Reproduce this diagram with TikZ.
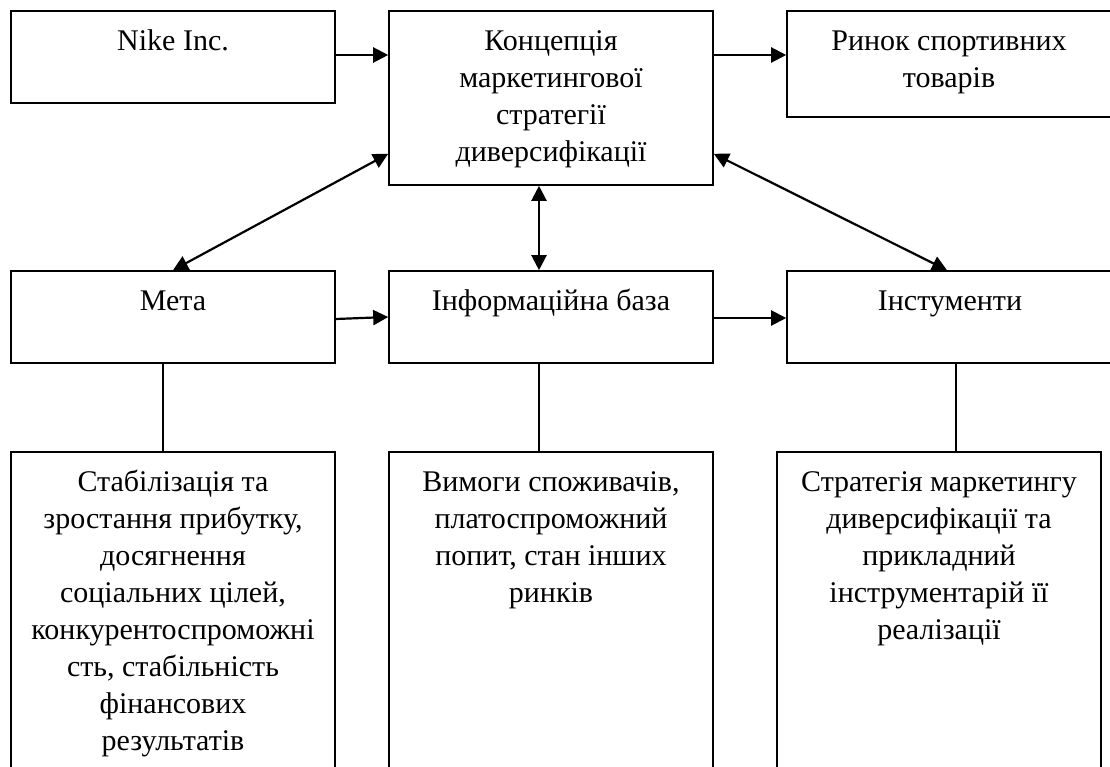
\documentclass[tikz,border=0pt]{standalone}
\usepackage{fontspec}
\setmainfont{Liberation Serif}
\usetikzlibrary{arrows.meta}
\begin{document}
\begin{tikzpicture}[x=1pt,y=-1pt,
  box/.style={draw=black,line width=1.6pt,inner sep=0pt},
  lbl/.style={anchor=north,inner sep=0pt,align=center,font=\fontsize{30}{37}\selectfont},
  arr/.style={line width=2.2pt,-{Triangle[length=15pt,width=15pt]}},
  darr/.style={line width=2.2pt,{Triangle[length=15pt,width=15pt]}-{Triangle[length=15pt,width=15pt]}},
  link/.style={line width=1.6pt}]
\useasboundingbox (0,0) rectangle (1110,767);
\clip (0,0) rectangle (1110,767);
\fill[white] (0,0) rectangle (1110,767);
% boxes
\node[box,minimum width=324pt,minimum height=92pt] (nike) at (173,57) {};
\node[box,minimum width=324pt,minimum height=174pt] (konc) at (551,98) {};
\node[box,minimum width=328pt,minimum height=106pt] (rynok) at (951,64) {};
\node[box,minimum width=324pt,minimum height=92pt] (meta) at (173,317) {};
\node[box,minimum width=324pt,minimum height=92pt] (info) at (551,317) {};
\node[box,minimum width=328pt,minimum height=92pt] (instr) at (951,317) {};
\node[box,minimum width=324pt,minimum height=338pt] (b1) at (173,621) {};
\node[box,minimum width=324pt,minimum height=338pt] (b2) at (551,621) {};
\node[box,minimum width=324pt,minimum height=338pt] (b3) at (939,621) {};
% anchor helpers on box borders
\coordinate (kw) at (konc.west |- 0,55);
\coordinate (ke) at (konc.east |- 0,55);
% texts
\node[lbl] (tnike) at (173,24) {\strut Nike Inc.};
\node[lbl] (tkonc) at (551,24) {\strut Концепція\\маркетингової\\стратегії\\диверсифікації};
\node[lbl] (trynok) at (949,24) {\strut Ринок спортивних\\товарів};
\node[lbl] (tmeta) at (173,284) {\strut Мета};
\node[lbl] (tinfo) at (551,284) {\strut Інформаційна база};
\node[lbl] (tinstr) at (950,284) {\strut Інстументи};
\node[lbl] (tb1) at (173,465) {\strut Стабілізація та\\зростання прибутку,\\досягнення\\соціальних цілей,\\конкурентоспроможні\\сть, стабільність\\фінансових\\результатів};
\node[lbl] (tb2) at (551,465) {\strut Вимоги споживачів,\\платоспроможний\\попит, стан інших\\ринків};
\node[lbl] (tb3) at (939,465) {\strut Стратегія маркетингу\\диверсифікації та\\прикладний\\інструментарій її\\реалізації};
% connectors
\draw[arr] (nike.east |- kw) -- (kw);
\draw[arr] (ke) -- (rynok.west |- ke);
\draw[darr] (meta.north) -- ([yshift=32pt]konc.south west);
\draw[darr] ([xshift=-12pt]konc.south) -- ([xshift=-12pt]info.north);
\draw[darr] ([yshift=32pt]konc.south east) -- ([xshift=-4pt]instr.north);
\draw[arr] ([yshift=-2pt]meta.east) -- (info.west);
\draw[arr] ([yshift=-1pt]info.east) -- ([yshift=-1pt]instr.west);
\draw[link] ([xshift=-10pt]meta.south) -- ([xshift=-10pt]b1.north);
\draw[link] ([xshift=-12pt]info.south) -- ([xshift=-12pt]b2.north);
\draw[link] ([xshift=5pt]instr.south) -- ([xshift=17pt]b3.north);
\end{tikzpicture}
\end{document}
